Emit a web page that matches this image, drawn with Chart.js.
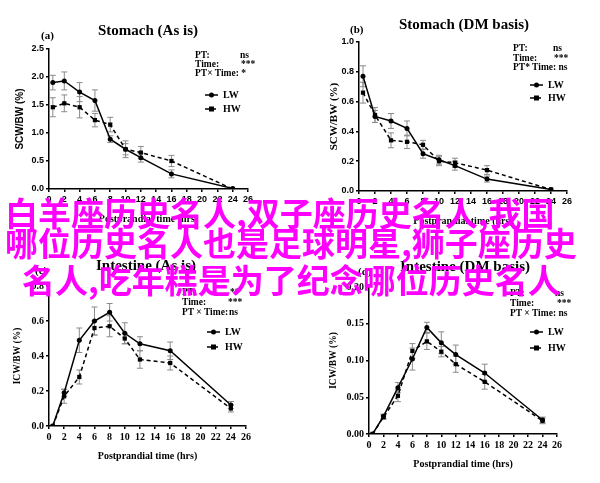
<!DOCTYPE html>
<html lang="zh">
<head>
  <meta charset="UTF-8" />
  <title>Stomach / Intestine – LW vs HW</title>
  <script src="https://cdn.jsdelivr.net/npm/chart.js"></script>
  <style>
    body{margin:0;width:600px;height:483px;background:#fff;position:relative;overflow:hidden;}
    canvas{position:absolute;}
    .ttl{position:absolute;font:bold 15px "Liberation Serif";line-height:15px;white-space:nowrap;transform:translateX(-50%);color:#000;}
    .lab{position:absolute;font:bold 11px "Liberation Serif";line-height:11px;color:#000;}
    .stat{position:absolute;font:bold 9.5px "Liberation Serif";line-height:9.5px;white-space:nowrap;color:#000;}
    .stat span{position:absolute;}
    .ov{position:absolute;color:#f0f;font:bold 33px "Noto Sans CJK SC";line-height:33px;white-space:nowrap;z-index:5;}
  </style>
</head>
<body>
  <canvas id="cA" width="300" height="241" style="left:0;top:0"></canvas>
  <canvas id="cB" width="300" height="241" style="left:300px;top:0"></canvas>
  <canvas id="cC" width="300" height="242" style="left:0;top:241px"></canvas>
  <canvas id="cD" width="300" height="242" style="left:300px;top:241px"></canvas>

  <!-- titles -->
  <div class="ttl" style="left:148px;top:23px">Stomach (As is)</div>
  <div class="ttl" style="left:464px;top:17px">Stomach (DM basis)</div>
  <div class="ttl" style="left:146px;top:258px">Intestine (As is)</div>
  <div class="ttl" style="left:465px;top:259px">Intestine (DM basis)</div>
  <div class="lab" style="left:41px;top:30px">(a)</div>
  <div class="lab" style="left:350px;top:24px">(b)</div>
  <div class="lab" style="left:35px;top:265px">(c)</div>
  <div class="lab" style="left:358px;top:266px">(d)</div>

  <!-- stats -->
  <div class="stat" style="left:195px;top:51px"><span>PT:</span><span style="left:45px">ns</span></div>
  <div class="stat" style="left:195px;top:60px"><span>Time:</span><span style="left:46px">***</span></div>
  <div class="stat" style="left:195px;top:69px"><span>PT× Time: *</span></div>
  <div class="stat" style="left:513px;top:44px"><span>PT:</span><span style="left:40px">ns</span></div>
  <div class="stat" style="left:513px;top:54px"><span>Time:</span><span style="left:41px">***</span></div>
  <div class="stat" style="left:513px;top:63px"><span>PT* Time: ns</span></div>
  <div class="stat" style="left:182px;top:288px"><span>PT:</span><span style="left:48px">**</span></div>
  <div class="stat" style="left:182px;top:298px"><span>Time:</span><span style="left:46px">***</span></div>
  <div class="stat" style="left:182px;top:308px"><span>PT × Time:</span><span style="left:47px">ns</span></div>
  <div class="stat" style="left:510px;top:289px"><span>PT:</span><span style="left:45px">ns</span></div>
  <div class="stat" style="left:510px;top:299px"><span>Time:</span><span style="left:47px">***</span></div>
  <div class="stat" style="left:510px;top:309px"><span>PT × Time: ns</span></div>

  <!-- overlay text -->
  <div class="ov" style="left:5px;top:196px">白羊座历史名人,双子座历史名人,我国</div>
  <div class="ov" style="left:5px;top:226px">哪位历史名人也是足球明星,狮子座历史</div>
  <div class="ov" style="left:22px;top:263px">名人,吃年糕是为了纪念哪位历史名人</div>

<script>
  // sampling times (hrs)
  const hours = [0.5, 2, 4, 6, 8, 10, 12, 16, 24];

  // (a) Stomach, as is – SCW/BW (%)
  const aLW    = [1.90, 1.93, 1.73, 1.58, 0.89, 0.71, 0.56, 0.27, 0.01];
  const aLWerr = [0.13, 0.16, 0.17, 0.19, 0.06, 0.10, 0.08, 0.07, 0];
  const aHW    = [1.46, 1.53, 1.46, 1.23, 1.15, 0.71, 0.65, 0.50, 0.00];
  const aHWerr = [0.17, 0.15, 0.19, 0.12, 0.13, 0.15, 0.11, 0.10, 0];

  // (b) Stomach, DM basis
  const bLW    = [0.77, 0.50, 0.47, 0.42, 0.25, 0.21, 0.17, 0.08, 0.01];
  const bLWerr = [0.07, 0.04, 0.05, 0.05, 0.03, 0.03, 0.03, 0.02, 0];
  const bHW    = [0.66, 0.51, 0.34, 0.33, 0.31, 0.20, 0.19, 0.14, 0.01];
  const bHWerr = [0.07, 0.05, 0.05, 0.045, 0.03, 0.03, 0.03, 0.03, 0];

  // (c) Intestine, as is – ICW/BW (%)
  const cLW    = [0, 0.19, 0.49, 0.60, 0.65, 0.53, 0.47, 0.43, 0.12];
  const cLWerr = [0, 0.02, 0.07, 0.08, 0.05, 0.06, 0.04, 0.05, 0.02];
  const cHW    = [0, 0.17, 0.28, 0.56, 0.57, 0.50, 0.38, 0.36, 0.10];
  const cHWerr = [0, 0.04, 0.04, 0.04, 0.06, 0.03, 0.05, 0.04, 0.02];

  // (d) Intestine, DM basis
  const dLW    = [0, 0.024, 0.063, 0.102, 0.145, 0.124, 0.108, 0.083, 0.019];
  const dLWerr = [0, 0.003, 0.007, 0.015, 0.007, 0.015, 0.013, 0.012, 0.004];
  const dHW    = [0, 0.023, 0.052, 0.113, 0.126, 0.112, 0.095, 0.071, 0.018];
  const dHWerr = [0, 0.003, 0.008, 0.010, 0.011, 0.007, 0.011, 0.010, 0.004];

  const SANS = 'Liberation Sans', SERIF = 'Liberation Serif';

  // grey whiskers under the lines
  const errBars = {
    id: 'errBars',
    beforeDatasetsDraw(chart) {
      const {ctx, scales: {x, y}} = chart;
      ctx.save();
      ctx.strokeStyle = '#8a8a8a';
      ctx.lineWidth = 1;
      chart.data.datasets.forEach(ds => {
        ds.data.forEach((p, i) => {
          const e = ds.err[i];
          if (!e) return;
          const px = x.getPixelForValue(p.x);
          const t = y.getPixelForValue(p.y + e), b = y.getPixelForValue(p.y - e);
          ctx.beginPath();
          ctx.moveTo(px, t); ctx.lineTo(px, b);
          ctx.moveTo(px - 3, t); ctx.lineTo(px + 3, t);
          ctx.moveTo(px - 3, b); ctx.lineTo(px + 3, b);
          ctx.stroke();
        });
      });
      ctx.restore();
    }
  };

  // little LW / HW key
  const miniLegend = {
    id: 'miniLegend',
    afterDraw(chart, args, o) {
      const ctx = chart.ctx;
      ctx.save();
      chart.data.datasets.forEach((ds, i) => {
        const y = o.y + i * o.dy;
        ctx.strokeStyle = '#000'; ctx.fillStyle = '#000'; ctx.lineWidth = 1.5;
        ctx.setLineDash(ds.borderDash || []);
        ctx.beginPath(); ctx.moveTo(o.x, y); ctx.lineTo(o.x + 13, y); ctx.stroke();
        ctx.setLineDash([]);
        if (ds.pointStyle === 'rect') ctx.fillRect(o.x + 4, y - 2.5, 5, 5);
        else { ctx.beginPath(); ctx.arc(o.x + 6.5, y, 2.5, 0, Math.PI * 2); ctx.fill(); }
        ctx.font = 'bold 10px ' + SERIF;
        ctx.textBaseline = 'middle';
        ctx.fillText(ds.label, o.x + 18, y);
      });
      ctx.restore();
    }
  };

  function panel(id, o) {
    const pts = arr => hours.map((h, i) => ({x: h, y: arr[i]}));
    const tickFont = {family: o.tickFam, weight: 'bold', size: o.tickSize};
    new Chart(document.getElementById(id), {
      type: 'line',
      data: {datasets: [
        {label: 'LW', data: pts(o.lw), err: o.lwErr, borderColor: '#000', backgroundColor: '#000',
         borderWidth: 1.5, pointStyle: 'circle', pointRadius: 2.5, pointBorderWidth: 0},
        {label: 'HW', data: pts(o.hw), err: o.hwErr, borderColor: '#000', backgroundColor: '#000',
         borderWidth: 1.5, borderDash: [4, 3], pointStyle: 'rect', pointRadius: 3, pointBorderWidth: 0}
      ]},
      options: {
        responsive: false, animation: false,
        layout: {padding: o.pad},
        plugins: {legend: {display: false}, tooltip: {enabled: false}, miniLegend: o.leg},
        scales: {
          x: {type: 'linear', min: 0, max: 26,
              ticks: {stepSize: 2, color: '#000', font: tickFont, padding: 2, maxRotation: 0},
              grid: {drawOnChartArea: false, tickLength: 3, color: '#000', lineWidth: 1.5},
              border: {color: '#000', width: 1.5},
              title: {display: true, text: 'Postprandial time (hrs)', color: '#000',
                      font: {family: SERIF, weight: 'bold', size: 10}, padding: {top: 4, bottom: 0}},
              afterFit: s => { s.height = 36; }},
          y: {min: 0, max: o.ymax,
              ticks: {stepSize: o.ystep, color: '#000', font: tickFont, padding: 2,
                      callback: v => v.toFixed(o.dec)},
              grid: {drawOnChartArea: false, tickLength: 3, color: '#000', lineWidth: 1.5},
              border: {color: '#000', width: 1.5},
              title: {display: true, text: o.ytitle, color: '#000', font: o.yfont, padding: {top: 0, bottom: 2}},
              afterFit: s => { s.width = o.yw; }}
        }
      },
      plugins: [errBars, miniLegend]
    });
  }

  panel('cA', {lw: aLW, lwErr: aLWerr, hw: aHW, hwErr: aHWerr, ymax: 2.5, ystep: 0.5, dec: 1,
    ytitle: 'SCW/BW (%)', yfont: {family: SANS, weight: 'bold', size: 10}, tickFam: SANS, tickSize: 9,
    yw: 35, pad: {left: 14, right: 52, top: 49, bottom: 16}, leg: {x: 205, y: 95, dy: 14}});
  panel('cB', {lw: bLW, lwErr: bLWerr, hw: bHW, hwErr: bHWerr, ymax: 1.0, ystep: 0.2, dec: 1,
    ytitle: 'SCW/BW (%)', yfont: {family: SERIF, weight: 'bold', size: 11}, tickFam: SANS, tickSize: 9,
    yw: 31, pad: {left: 28, right: 33, top: 42, bottom: 14}, leg: {x: 230, y: 85, dy: 13}});
  panel('cC', {lw: cLW, lwErr: cLWerr, hw: cHW, hwErr: cHWerr, ymax: 0.8, ystep: 0.2, dec: 1,
    ytitle: 'ICW/BW (%)', yfont: {family: SERIF, weight: 'bold', size: 9.5}, tickFam: SERIF, tickSize: 10,
    yw: 37, pad: {left: 12, right: 54, top: 45, bottom: 21}, leg: {x: 207, y: 91, dy: 15}});
  panel('cD', {lw: dLW, lwErr: dLWerr, hw: dHW, hwErr: dHWerr, ymax: 0.2, ystep: 0.05, dec: 2,
    ytitle: 'ICW/BW (%)', yfont: {family: SERIF, weight: 'bold', size: 9.5}, tickFam: SERIF, tickSize: 10,
    yw: 41, pad: {left: 28, right: 43, top: 46, bottom: 13}, leg: {x: 230, y: 91, dy: 16}});
</script>
</body>
</html>
